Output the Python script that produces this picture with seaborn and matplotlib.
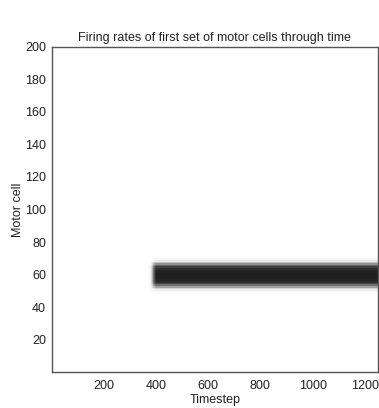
import numpy as np
import pandas as pd
import matplotlib
matplotlib.use("Agg")
import matplotlib.pyplot as plt
import seaborn as sns

# ---- data ----
n_cells = 200
n_steps = 1250
band_cells = [48, 49, 50, 51, 52, 53, 54, 55, 56, 57, 58, 59, 60, 61, 62, 63, 64, 65, 66, 67, 68, 69, 70]
band_profile = [0.03, 0.07, 0.15, 0.3, 0.5, 0.7, 0.84, 0.92, 0.95, 0.96, 0.97, 0.97, 0.97, 0.96, 0.95, 0.92, 0.86, 0.74, 0.56, 0.36, 0.18, 0.08, 0.03]
onset_steps = [372, 376, 380, 384, 388, 392, 396, 400]
onset_level = [0.05, 0.15, 0.3, 0.5, 0.7, 0.85, 0.95, 1.0]
xtick_values = [200, 400, 600, 800, 1000, 1200]
ytick_values = [20, 40, 60, 80, 100, 120, 140, 160, 180, 200]
title = "Firing rates of first set of motor cells through time"
xlabel = "Timestep"
ylabel = "Motor cell"

# ---- build matrix ----
time_act = np.zeros(n_steps)
last = onset_steps[-1]
time_act[last:] = 1.0
for s, v in zip(onset_steps, onset_level):
    time_act[s:s + 4] = v
cell_act = np.zeros(n_cells)
for c, v in zip(band_cells, band_profile):
    cell_act[c] = v
mat = pd.DataFrame(np.outer(cell_act, time_act))

plt.rcParams['font.family'] = ['Liberation Sans', 'DejaVu Sans']
fig = plt.figure(figsize=(3.79, 4.08), dpi=100)
ax = fig.add_axes([0.136, 0.088, 0.861, 0.797])
sns.heatmap(mat, ax=ax, cmap="Greys", vmin=0, vmax=1.08, cbar=False,
            xticklabels=False, yticklabels=False, rasterized=True)
ax.invert_yaxis()
ax.set_xticks(xtick_values)
ax.set_xticklabels([str(v) for v in xtick_values], fontsize=9, rotation=0)
ax.set_yticks(ytick_values)
ax.set_yticklabels([str(v) for v in ytick_values], fontsize=9, rotation=0)
ax.tick_params(length=0, colors='#222222')
ax.tick_params(axis='x', pad=6)
ax.tick_params(axis='y', pad=4)
for sp in ax.spines.values():
    sp.set_visible(True)
    sp.set_color('#555555')
    sp.set_linewidth(1.0)
ax.set_title(title, fontsize=9, pad=4, color='#222222')
ax.set_xlabel(xlabel, fontsize=9, labelpad=1, color='#222222')
ax.set_ylabel(ylabel, fontsize=9, labelpad=1, color='#222222')
fig.savefig("out.png", dpi=100)
